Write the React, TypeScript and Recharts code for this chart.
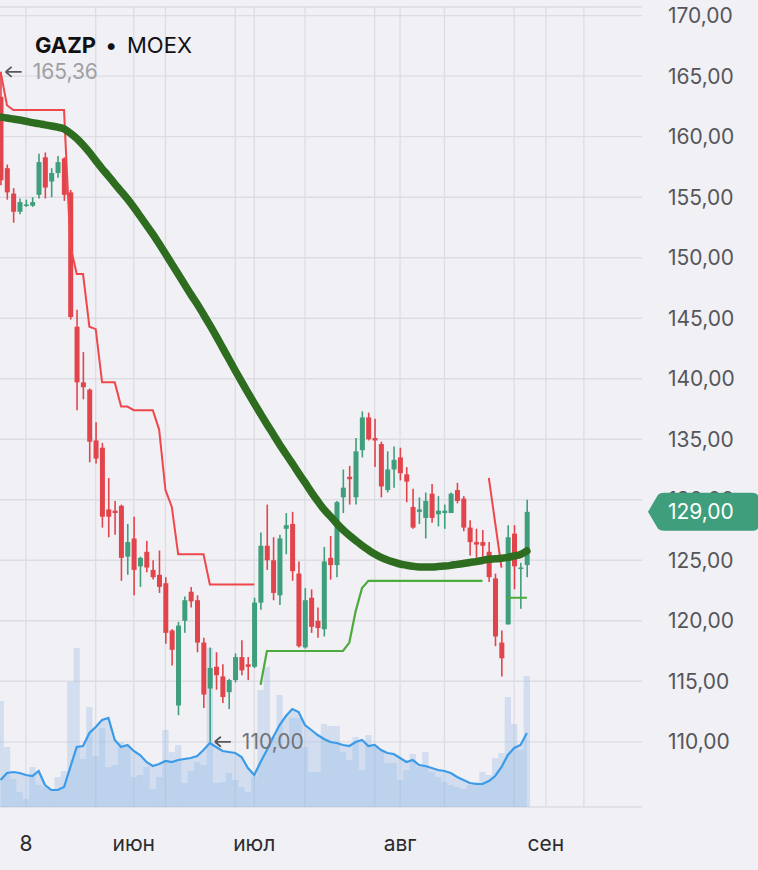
import React from 'react';
import { ComposedChart, Bar, Line, Area, XAxis, YAxis, CartesianGrid, ReferenceDot, ReferenceLine } from 'recharts';

// ---- data (one entry per trading session) ----
const opens = [163.3, 157.4, 155.3, 153.8, 154.3, 154.3, 155.2, 158.3, 156.3, 157.0,
  158.2, 155.4, 144.3, 139.7, 139.1, 134.9, 134.3, 129.2, 129.1, 129.5,
  125.3, 126.8, 124.5, 125.7, 124.2, 123.8, 123.1, 119.2, 113.0, 120.0,
  122.4, 121.7, 118.2, 114.4, 116.2, 115.4, 114.1, 115.1, 117.0, 116.4,
  116.2, 121.5, 126.2, 125.0, 122.1, 127.6, 128.0, 123.9, 117.8, 121.9,
  120.0, 119.3, 125.2, 124.6, 130.2, 131.9, 130.2, 134.1, 136.8, 135.1,
  134.6, 130.8, 132.5, 133.5, 132.1, 129.4, 129.0, 128.5, 130.5, 128.8,
  128.9, 128.9, 130.8, 130.1, 127.7, 126.5, 126.5, 125.7, 123.5, 118.2,
  119.7, 127.2, 124.3, 124.6];
const highs = [165.36, 157.7, 155.75, 154.9, 154.8, 155.0, 158.6, 158.7, 157.4, 158.4,
  158.3, 155.6, 145.7, 142.2, 139.2, 136.4, 134.7, 131.8, 129.9, 129.6,
  128.0, 128.6, 125.3, 126.6, 125.0, 125.8, 123.6, 119.3, 119.9, 122.0,
  122.8, 122.1, 118.6, 117.8, 117.4, 116.4, 115.2, 117.3, 118.4, 117.0,
  121.9, 127.3, 129.6, 126.9, 127.1, 128.9, 129.0, 124.9, 122.7, 122.6,
  121.1, 126.1, 127.0, 129.9, 132.5, 132.8, 135.1, 137.3, 137.2, 136.7,
  134.8, 134.0, 134.4, 134.3, 132.7, 130.9, 130.2, 130.6, 131.3, 130.3,
  129.6, 130.6, 131.4, 130.3, 128.3, 127.6, 127.5, 126.5, 123.9, 119.2,
  127.9, 127.9, 124.8, 130.0];
const lows = [156.0, 154.8, 152.9, 153.6, 154.2, 154.2, 154.9, 154.9, 155.0, 156.6,
  154.7, 144.9, 137.4, 138.3, 133.1, 133.0, 127.7, 126.9, 127.1, 123.3,
  123.8, 122.1, 122.8, 124.0, 123.4, 122.3, 118.1, 116.3, 112.2, 119.0,
  121.1, 117.4, 112.8, 110.0, 114.3, 113.2, 112.7, 114.9, 115.5, 115.1,
  116.1, 120.9, 124.2, 121.7, 121.3, 125.5, 123.3, 117.8, 117.7, 119.0,
  118.6, 118.7, 123.4, 123.6, 128.9, 129.6, 129.6, 133.5, 134.9, 132.7,
  130.2, 130.6, 131.0, 131.6, 129.8, 127.6, 128.0, 126.8, 128.1, 127.8,
  127.6, 128.9, 129.7, 127.4, 125.4, 125.2, 124.9, 123.2, 117.9, 115.4,
  119.7, 122.6, 121.0, 123.6];
const closes = [156.4, 155.4, 153.8, 154.6, 154.4, 154.6, 157.9, 155.8, 157.0, 157.9,
  155.2, 145.1, 139.7, 139.3, 134.8, 133.4, 128.6, 128.6, 128.9, 125.2,
  126.5, 124.2, 125.2, 124.4, 123.6, 122.8, 119.0, 117.6, 119.6, 121.7,
  121.6, 118.2, 113.9, 116.1, 115.5, 113.7, 115.1, 117.0, 115.9, 116.2,
  121.5, 126.2, 125.0, 122.3, 126.8, 127.9, 124.1, 117.9, 121.7, 119.5,
  119.4, 124.9, 124.6, 129.8, 131.0, 131.7, 134.0, 136.8, 135.0, 134.9,
  131.1, 132.5, 133.3, 132.2, 131.5, 127.7, 129.2, 129.9, 128.5, 129.1,
  129.1, 130.5, 129.9, 127.7, 126.5, 126.3, 126.2, 123.6, 118.7, 116.9,
  126.9, 124.5, 124.4, 129.0];
const volumes = [106, 60, 28, 15, 8, 40, 22, 20, 18, 30,
  36, 125, 159, 48, 100, 51, 79, 40, 42, 65,
  62, 30, 32, 40, 18, 30, 77, 55, 62, 24,
  36, 45, 42, 159, 24, 25, 34, 27, 20, 15,
  30, 117, 140, 70, 112, 60, 89, 89, 60, 35,
  35, 83, 81, 81, 55, 47, 70, 37, 72, 60,
  57, 44, 44, 27, 37, 53, 40, 55, 35, 30,
  25, 22, 20, 18, 22, 25, 35, 32, 49, 54,
  110, 83, 57, 131];
const volumeAvg = [27, 34, 35, 34, 32, 31, 36, 22, 17, 17,
  20, 40, 60, 61, 74, 80, 87, 89, 67, 60,
  62, 56, 52, 45, 41, 43, 46, 45, 47, 48,
  49, 51, 57, 64, 60, 56, 55, 54, 50, 39,
  32, 45, 57, 70, 82, 91, 98, 95, 82, 77,
  72, 68, 65, 64, 62, 61, 65, 67, 61, 62,
  57, 54, 53, 49, 45, 47, 42, 41, 39, 37,
  36, 34, 30, 27, 24, 23, 23, 26, 31, 40,
  52, 59, 62, 74];
const movingAvg = [161.62, 161.55, 161.46, 161.38, 161.28, 161.17, 161.08, 160.98, 160.89, 160.79,
  160.64, 160.28, 159.85, 159.31, 158.7, 158.02, 157.37, 156.75, 156.11, 155.49,
  154.86, 154.17, 153.44, 152.7, 151.95, 151.15, 150.33, 149.49, 148.65, 147.81,
  146.97, 146.18, 145.31, 144.43, 143.52, 142.57, 141.63, 140.68, 139.76, 138.86,
  137.97, 137.1, 136.24, 135.41, 134.57, 133.78, 133.0, 132.2, 131.43, 130.63,
  129.89, 129.2, 128.63, 128.05, 127.52, 127.05, 126.63, 126.22, 125.85, 125.51,
  125.24, 125.02, 124.85, 124.69, 124.59, 124.5, 124.45, 124.45, 124.45, 124.48,
  124.52, 124.58, 124.66, 124.73, 124.82, 124.89, 124.98, 125.09, 125.12, 125.16,
  125.24, 125.35, 125.47, 125.77];
const stopDown = [165.35, 162.6, 162.2, 162.2, 162.2, 162.2, 162.2, 162.2, 162.2, 162.2,
  162.2, 151.0, 148.65, 148.65, 144.3, 144.1, 139.7, 139.7, 139.7, 137.7,
  137.7, 137.4, 137.4, 137.4, 137.4, 135.8, 130.8, 129.4, 125.5, 125.5,
  125.5, 125.5, 125.5, 123.0, 123.0, 123.0, 123.0, 123.0, 123.0, 123.0,
  123.0, null, null, null, null, null, null, null, null, null,
  null, null, null, null, null, null, null, null, null, null,
  null, null, null, null, null, null, null, null, null, null,
  null, null, null, null, null, null, null, 131.8, 128.1, 124.4,
  null, null, null, null];
const stopUp = [null, null, null, null, null, null, null, null, null, null,
  null, null, null, null, null, null, null, null, null, null,
  null, null, null, null, null, null, null, null, null, null,
  null, null, null, null, null, null, null, null, null, null,
  null, 114.7, 117.5, 117.5, 117.5, 117.5, 117.5, 117.5, 117.5, 117.5,
  117.5, 117.5, 117.5, 117.5, 117.5, 118.2, 120.8, 122.7, 123.3, 123.3,
  123.3, 123.3, 123.3, 123.3, 123.3, 123.3, 123.3, 123.3, 123.3, 123.3,
  123.3, 123.3, 123.3, 123.3, 123.3, 123.3, 123.3, null, null, null,
  121.9, 121.9, 121.9, 121.9];

const monthTickIdx = [4, 21, 40, 63, 86];
const monthLabels = ['8', 'июн', 'июл', 'авг', 'сен'];
const gridIdx = [4, 15, 21, 26, 37, 40, 48, 59, 63, 70, 81, 86, 92];
const priceTicks = [110, 115, 120, 125, 130, 135, 140, 145, 150, 155, 160, 165, 170];
const xDomain: [number, number] = [-0.1, 101.16];
const yDomain: [number, number] = [104.61, 170.72];
const volDomain: [number, number] = [0, 800];
const maxIdx = 0;
const minIdx = 33;

const RED = '#e2444b';
const GREEN = '#3f9e7b';

const data = opens.map((o, i) => ({
  i,
  open: o,
  high: highs[i],
  low: lows[i],
  close: closes[i],
  vol: volumes[i],
  volMa: volumeAvg[i],
  ma: movingAvg[i],
  stopDown: stopDown[i],
  stopUp: stopUp[i],
}));

const fmt = (v: number) => v.toFixed(2).replace('.', ',');

const Candle = (props: any) => {
  const { x, y, width, height, payload } = props;
  if (!payload || payload.high === payload.low) return null;
  const ratio = height / (payload.high - payload.low);
  const up = payload.close >= payload.open;
  const color = up ? GREEN : RED;
  const cx = x + width / 2;
  const top = y + (payload.high - Math.max(payload.open, payload.close)) * ratio;
  const bh = Math.max(Math.abs(payload.open - payload.close) * ratio, 1.5);
  return (
    <g>
      <line x1={cx} x2={cx} y1={y} y2={y + height} stroke={color} strokeWidth={1.6} />
      <rect x={x} y={top} width={width} height={bh} fill={color} />
    </g>
  );
};

const Extreme = ({ cx, cy, label, color }: any) => (
  <g>
    <path
      d={`M${cx + 5},${cy} L${cx + 21},${cy} M${cx + 5},${cy} L${cx + 11},${cy - 5} M${cx + 5},${cy} L${cx + 11},${cy + 5}`}
      stroke="#58585c" strokeWidth={1.8} fill="none" />
    <text x={cx + 32} y={cy} dy="0.36em" fontSize={21} fill={color}>{label}</text>
  </g>
);

const Pill = ({ cx, cy, label }: any) => (
  <g>
    <path
      d={`M${cx + 6},${cy} L${cx + 16},${cy - 17} Q${cx + 18},${cy - 19} ${cx + 22},${cy - 19} L${cx + 110},${cy - 19} Q${cx + 117},${cy - 19} ${cx + 117},${cy - 12} L${cx + 117},${cy + 12} Q${cx + 117},${cy + 19} ${cx + 110},${cy + 19} L${cx + 22},${cy + 19} Q${cx + 18},${cy + 19} ${cx + 16},${cy + 17} Z`}
      fill="#3f9e7b" />
    <text x={cx + 26} y={cy} dy="0.36em" fontSize={21} fill="#ffffff">{label}</text>
  </g>
);

export default function App() {
  return (
    <div style={{ position: 'absolute', left: 0, top: 0, width: 758, height: 870, background: '#f0f0f5', overflow: 'hidden', fontFamily: 'Inter, "Liberation Sans", Arial, sans-serif' }}>
      <ComposedChart width={758} height={870} data={data} margin={{ top: 7, right: 0, bottom: 0, left: 0 }}>
        <CartesianGrid yAxisId="gy" vertical={false} stroke="#dcdce3" strokeWidth={1.3} />
        <XAxis dataKey="i" type="number" domain={xDomain} allowDataOverflow ticks={monthTickIdx} interval={0}
          tickFormatter={(v: number) => monthLabels[monthTickIdx.indexOf(v)] ?? ''}
          axisLine={false} tickLine={false} height={63} tickMargin={23}
          tick={{ fill: '#2c2c2e', fontSize: 21 }} />
        <XAxis xAxisId="v" dataKey="i" type="number" domain={xDomain} allowDataOverflow hide />
        <YAxis orientation="right" domain={yDomain} allowDataOverflow ticks={priceTicks} interval={0} width={116}
          tickFormatter={fmt} axisLine={false} tickLine={false} tickMargin={20}
          tick={{ fill: '#56565a', fontSize: 21 }} />
        <YAxis yAxisId="vol" domain={volDomain} allowDataOverflow hide />
        <YAxis yAxisId="gy" domain={yDomain} allowDataOverflow hide ticks={[yDomain[0], ...priceTicks]} interval={0} />

        {gridIdx.map((g) => (
          <ReferenceLine key={g} x={g} stroke="#dcdce3" strokeWidth={1.3} zIndex={-90} />
        ))}

        <Area xAxisId="v" yAxisId="vol" dataKey="volMa" type="linear" stroke="none" fill="#8fb6e6" fillOpacity={0.3} isAnimationActive={false} />
        <Bar xAxisId="v" yAxisId="vol" dataKey="vol" barSize={6.3} fill="#8fb6e6" fillOpacity={0.3} isAnimationActive={false} />
        <Line xAxisId="v" yAxisId="vol" dataKey="volMa" type="linear" stroke="#3b9be8" strokeWidth={2.2} dot={false} isAnimationActive={false} />

        <Bar dataKey={(d: any) => [d.low, d.high]} barSize={5} shape={<Candle />} isAnimationActive={false} />

        <Line dataKey="stopDown" type="linear" stroke="#f0474b" strokeWidth={2} dot={false} isAnimationActive={false} />
        <Line dataKey="stopUp" type="linear" stroke="#4dab3e" strokeWidth={2.2} dot={false} isAnimationActive={false} />
        <Line dataKey="ma" type="monotone" stroke="#2e6c20" strokeWidth={7.5} strokeLinecap="round" dot={false} isAnimationActive={false} />

        <ReferenceDot x={maxIdx} y={highs[maxIdx]} r={1} ifOverflow="visible" zIndex={2000}
          shape={(p: any) => <Extreme cx={p.cx} cy={p.cy} label={fmt(highs[maxIdx])} color="#a0a0a4" />} />
        <ReferenceDot x={minIdx} y={lows[minIdx]} r={1} ifOverflow="visible" zIndex={2000}
          shape={(p: any) => <Extreme cx={p.cx} cy={p.cy} label={fmt(lows[minIdx])} color="#737378" />} />
        <ReferenceDot x={xDomain[1]} y={closes[closes.length - 1]} r={1} ifOverflow="visible" zIndex={2000}
          shape={(p: any) => <Pill cx={p.cx} cy={p.cy} label={fmt(closes[closes.length - 1])} />} />
      </ComposedChart>
      <svg width={758} height={80} style={{ position: 'absolute', left: 0, top: 0, pointerEvents: 'none' }}>
        <text y={53} fontSize={22} fill="#111114">
          <tspan x={35} fontWeight={700}>GAZP</tspan>
          <tspan x={105}>•</tspan>
          <tspan x={127}>MOEX</tspan>
        </text>
      </svg>
    </div>
  );
}
